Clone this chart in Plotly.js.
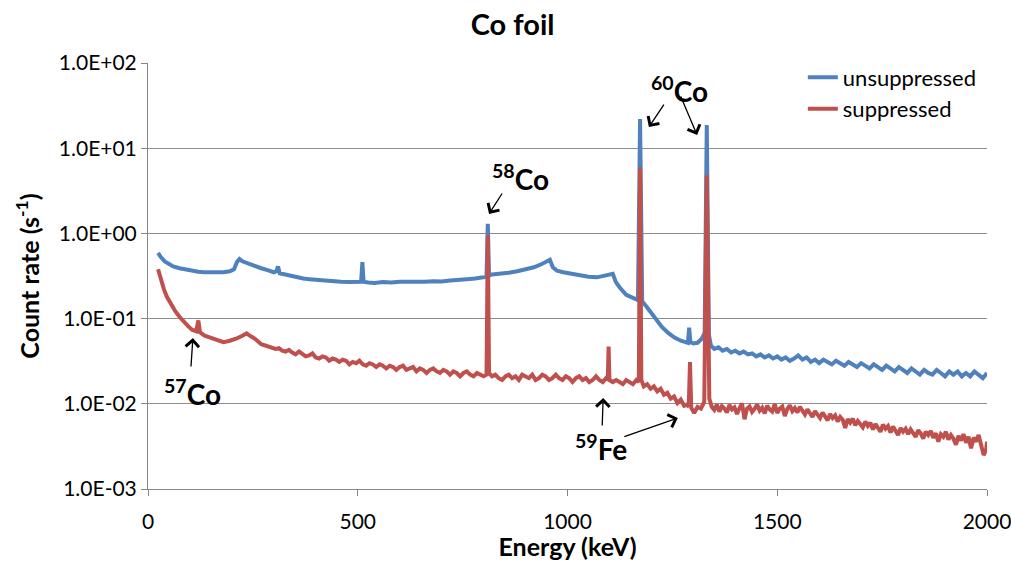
<!DOCTYPE html>
<html>
<head>
<meta charset="utf-8">
<script src="https://cdn.plot.ly/plotly-3.0.1.min.js"></script>
<style>html,body{margin:0;padding:0;background:#fff;}#chart{width:1011px;height:561px;}</style>
</head>
<body>
<div id="chart"></div>
<script>
// ---- data ----
const seriesNames = ["unsuppressed", "suppressed"];

const energyUnsup = [24,30,40,50,60,75,90,105,120,135,150,165,180,195,205,212,218,225,240,255,270,285,300,306,310,314,325,340,355,370,385,400,420,440,460,480,500,508,511,514,525,540,560,580,600,620,640,660,680,700,720,740,760,780,800,807,810,813,820,840,860,880,900,920,940,952,958,965,975,990,1010,1030,1050,1070,1090,1100,1108,1115,1125,1140,1155,1168,1173,1178,1189,1200,1212,1225,1240,1255,1270,1283,1287,1290,1293,1300,1310,1320,1327,1332,1337,1342,1350,1360,1370,1380,1390,1400,1410,1420,1430,1440,1450,1460,1470,1480,1490,1500,1510,1520,1530,1540,1550,1560,1570,1580,1590,1600,1610,1620,1630,1640,1650,1660,1670,1680,1690,1700,1710,1720,1730,1740,1750,1760,1770,1780,1790,1800,1810,1820,1830,1840,1850,1860,1870,1880,1890,1900,1910,1920,1930,1940,1950,1960,1970,1980,1990,2000];
const rateUnsup = [0.59,0.53,0.47,0.44,0.41,0.39,0.375,0.365,0.355,0.35,0.35,0.355,0.35,0.36,0.38,0.46,0.50,0.47,0.44,0.41,0.39,0.37,0.35,0.36,0.41,0.34,0.33,0.315,0.305,0.295,0.29,0.285,0.28,0.275,0.27,0.268,0.265,0.27,0.46,0.27,0.265,0.262,0.268,0.265,0.27,0.268,0.272,0.27,0.275,0.272,0.28,0.282,0.29,0.295,0.30,0.31,1.3,0.32,0.33,0.335,0.345,0.36,0.38,0.40,0.44,0.47,0.49,0.40,0.365,0.35,0.335,0.32,0.31,0.305,0.32,0.33,0.335,0.27,0.23,0.19,0.175,0.165,22,0.16,0.137,0.115,0.095,0.08,0.068,0.06,0.055,0.053,0.052,0.078,0.053,0.051,0.052,0.058,0.068,18.7,0.065,0.048,0.044,0.046,0.042,0.044,0.040,0.042,0.039,0.041,0.038,0.039,0.036,0.038,0.035,0.037,0.034,0.036,0.033,0.035,0.032,0.034,0.037,0.033,0.035,0.031,0.033,0.030,0.033,0.031,0.029,0.032,0.030,0.028,0.031,0.029,0.027,0.030,0.028,0.026,0.029,0.027,0.025,0.028,0.026,0.024,0.027,0.025,0.023,0.026,0.024,0.022,0.025,0.023,0.022,0.025,0.023,0.021,0.024,0.022,0.024,0.021,0.023,0.021,0.024,0.022,0.020,0.023];

const energySup = [24,30,38,45,55,65,75,85,95,105,115,120,124,135,150,165,180,195,210,225,235,245,255,270,285,296,304,312,320,328,336,344,352,360,368,376,384,392,400,408,416,424,432,440,448,456,464,472,480,488,496,504,512,520,528,536,544,552,560,568,576,584,592,600,608,616,624,632,640,648,656,664,672,680,688,696,704,712,720,728,736,744,752,760,768,776,784,792,800,807,810,813,820,828,836,844,852,860,868,876,884,892,900,908,916,924,932,940,948,956,964,972,980,988,996,1004,1012,1020,1028,1036,1044,1052,1060,1068,1076,1084,1092,1096,1098,1100,1108,1116,1124,1132,1140,1148,1156,1164,1170,1173,1176,1182,1190,1198,1206,1214,1222,1230,1238,1246,1254,1262,1270,1278,1285,1289,1292,1295,1302,1310,1318,1326,1332,1338,1344,1350,1356,1362,1368,1374,1380,1386,1392,1398,1404,1410,1416,1422,1428,1434,1440,1446,1452,1458,1464,1470,1476,1482,1488,1494,1500,1506,1512,1518,1524,1530,1536,1542,1548,1554,1560,1566,1572,1578,1584,1590,1596,1602,1608,1614,1620,1626,1632,1638,1644,1650,1656,1662,1668,1674,1680,1686,1692,1698,1704,1710,1716,1722,1728,1734,1740,1746,1752,1758,1764,1770,1776,1782,1788,1794,1800,1806,1812,1818,1824,1830,1836,1842,1848,1854,1860,1866,1872,1878,1884,1890,1896,1902,1908,1914,1920,1926,1932,1938,1944,1950,1956,1962,1968,1974,1980,1986,1992,1998,2000];
const rateSup = [0.38,0.29,0.22,0.18,0.145,0.122,0.105,0.092,0.082,0.074,0.071,0.095,0.069,0.063,0.059,0.056,0.053,0.055,0.058,0.063,0.067,0.062,0.058,0.050,0.047,
  0.046,0.044,0.045,0.042,0.041,0.043,0.040,0.038,0.041,0.039,0.036,0.037,0.039,0.035,0.034,0.036,0.035,0.032,0.034,0.033,0.031,0.033,0.032,0.029,0.031,0.030,0.032,0.029,0.028,0.030,0.029,0.027,0.029,0.028,0.026,0.028,0.027,0.025,0.027,0.028,0.025,0.026,0.027,0.024,0.026,0.025,0.023,0.025,0.026,0.024,0.023,0.025,0.024,0.022,0.024,0.023,0.021,0.023,0.024,0.022,0.021,0.023,0.022,0.021,
  0.022,0.95,0.023,
  0.021,0.022,0.020,0.019,0.021,0.022,0.020,0.021,0.019,0.022,0.021,0.020,0.022,0.019,0.020,0.022,0.021,0.019,0.020,0.022,0.020,0.019,0.021,0.020,0.018,0.020,0.021,0.019,0.020,0.018,0.019,0.021,0.019,0.018,0.020,
  0.019,0.047,0.019,
  0.018,0.019,0.018,0.017,0.019,0.018,0.017,0.019,0.018,
  5.9,0.019,0.016,0.017,0.015,0.016,0.014,0.015,0.0128,0.0135,0.0115,0.0122,0.0102,0.0112,0.0095,0.0098,0.0092,0.031,0.0090,0.0078,0.0092,0.0088,0.0105,4.8,0.0115,0.0092,0.0085,0.0098,0.0081,0.0094,0.0088,0.0079,0.0097,0.0086,0.0091,0.0076,0.0089,0.0101,0.0066,0.0088,0.0093,0.0080,0.0087,0.0098,0.0083,0.0090,0.0077,0.0095,0.0086,0.0081,0.0099,0.0078,0.0088,0.0093,0.0072,0.0087,0.0096,0.0082,0.0089,0.0079,0.0092,0.0084,0.0075,0.0086,0.0079,0.0070,0.0082,0.0074,0.0068,0.0079,0.0071,0.0064,0.0076,0.0068,0.0073,0.0062,0.0070,0.0065,0.0052,0.0066,0.0060,0.0067,0.0056,0.0063,0.0058,0.0053,0.0062,0.0055,0.0060,0.0050,0.0058,0.0053,0.0047,0.0057,0.0051,0.0055,0.0046,0.0054,0.0049,0.0043,0.0052,0.0047,0.0051,0.0044,0.0050,0.0046,0.0041,0.0049,0.0045,0.0039,0.0047,0.0043,0.0048,0.0040,0.0045,0.0036,0.0044,0.0041,0.0047,0.0038,0.0043,0.0039,0.0033,0.0042,0.0037,0.0044,0.0035,0.0041,0.0030,0.0040,0.0036,0.0043,0.0033,0.0025,0.0029,0.0036];

const xTicks = [0, 500, 1000, 1500, 2000];
const yTicks = [1e-3, 1e-2, 1e-1, 1e0, 1e1, 1e2];
const yTickText = ["1.0E-03", "1.0E-02", "1.0E-01", "1.0E+00", "1.0E+01", "1.0E+02"];

// peak labels: [label, energy, rate]
const peakLabels = [
  ["<sup>57</sup>Co", 107, 0.0134],
  ["<sup>58</sup>Co", 887, 4.47],
  ["<sup>60</sup>Co", 1268, 49.5],
  ["<sup>59</sup>Fe", 1080, 0.00311]
];
// arrows: [tip energy, tip rate, dx px, dy px]
const peakArrows = [
  [107, 0.0592, -2, 30],
  [813, 1.69, 14, -22],
  [1194, 17.7, 16, -24],
  [1309, 14.3, -17, -40],
  [1085, 0.0117, -1, 29],
  [1263, 0.0068, -55, 19]
];

const FONT = "Lato, 'Open Sans', sans-serif";
const BLUE = "#4F81BD";
const RED = "#C0504D";

const traces = [
  {x: energyUnsup, y: rateUnsup, name: seriesNames[0], mode: "lines", line: {color: BLUE, width: 4}},
  {x: energySup, y: rateSup, name: seriesNames[1], mode: "lines", line: {color: RED, width: 4}}
];

const annotations = [];
peakLabels.forEach(p => annotations.push({
  x: p[1], y: Math.log10(p[2]), xref: "x", yref: "y", text: "<b>" + p[0] + "</b>",
  showarrow: false, font: {family: FONT, size: 28, color: "#000"}
}));
peakArrows.forEach(a => annotations.push({
  x: a[0], y: Math.log10(a[1]), xref: "x", yref: "y", text: "", ax: a[2], ay: a[3],
  showarrow: true, arrowhead: 4, arrowsize: 2, arrowwidth: 1.3, arrowcolor: "#000", standoff: 0, startstandoff: 0
}));

const layout = {
  width: 1011, height: 561,
  margin: {l: 148, r: 24, t: 63, b: 72},
  paper_bgcolor: "#fff", plot_bgcolor: "#fff",
  font: {family: FONT, color: "#000"},
  title: {text: "<b>Co foil</b>", font: {family: FONT, size: 29, color: "#000"}, x: 0.507, xanchor: "center", y: 0.955, yanchor: "middle"},
  xaxis: {
    range: [0, 2000], tickvals: xTicks, ticktext: xTicks.map(String),
    showgrid: false, zeroline: false, showline: true, linecolor: "#868686", linewidth: 1,
    ticks: "outside", ticklen: 6, tickcolor: "#868686", ticklabelstandoff: 8, ticklabeloverflow: "allow",
    tickfont: {family: FONT, size: 21, color: "#000"},
    title: {text: "<b>Energy (keV)</b>", font: {family: FONT, size: 25, color: "#000"}, standoff: 2}
  },
  yaxis: {
    type: "log", range: [-3, 2], tickvals: yTicks, ticktext: yTickText,
    showgrid: true, gridcolor: "#8c8c8c", gridwidth: 1, zeroline: false,
    showline: true, linecolor: "#868686", linewidth: 1,
    ticks: "outside", ticklen: 6, tickcolor: "#868686", ticklabeloverflow: "allow",
    tickfont: {family: FONT, size: 21, color: "#000"},
    title: {text: "<b>Count rate (s<sup>-1</sup>)</b>", font: {family: FONT, size: 25, color: "#000"}, standoff: 12}
  },
  legend: {x: 0.7805, xanchor: "left", y: 1.0156, yanchor: "top", bgcolor: "rgba(0,0,0,0)",
    font: {family: FONT, size: 22, color: "#000"}},
  showlegend: true,
  annotations: annotations
};

Plotly.newPlot("chart", traces, layout, {displayModeBar: false, staticPlot: true});
</script>
</body>
</html>
